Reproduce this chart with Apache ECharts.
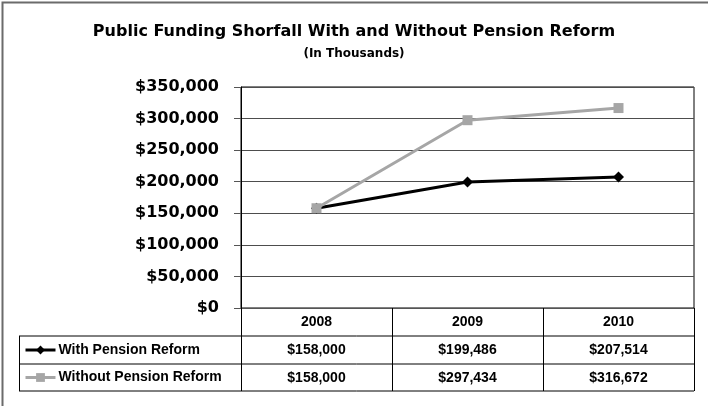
<!DOCTYPE html>
<html>
<head>
<meta charset="utf-8">
<script src="https://cdn.jsdelivr.net/npm/echarts@6/dist/echarts.min.js"></script>
<style>
  html, body { margin: 0; padding: 0; background: #fff; }
  #chart { width: 708px; height: 406px; }
</style>
</head>
<body>
<div id="chart"></div>
<script>
// Chart data
const years = ['2008', '2009', '2010'];
const seriesNames = ['With Pension Reform', 'Without Pension Reform'];
const withReform = [158000, 199486, 207514];
const withoutReform = [158000, 297434, 316672];

// Value axis range
const yMin = 0;
const yMax = 350000;
const yStep = 50000;

const money = v => '$' + Number(v).toLocaleString('en-US');

const chart = echarts.init(document.getElementById('chart'), null, { renderer: 'canvas' });

const tableFont = {
  fontFamily: '"Liberation Sans", Arial, sans-serif',
  fontWeight: 'bold',
  fontSize: 14,
  color: '#000'
};

// Extra category axes act as the rows of the data table under the plot
function rowAxis(values, offset) {
  return {
    type: 'category',
    gridIndex: 0,
    position: 'bottom',
    offset: offset,
    data: values.map(money),
    axisLine: { show: false },
    axisTick: { show: false },
    axisLabel: Object.assign({ interval: 0, margin: 7 }, tableFont),
    splitLine: { show: false }
  };
}

function rowLegend(name, top) {
  return {
    data: [name],
    left: 24,
    top: top,
    orient: 'horizontal',
    itemWidth: 30,
    itemHeight: 11,
    itemGap: 0,
    selectedMode: false,
    padding: 0,
    lineStyle: { width: 3 },
    textStyle: Object.assign({ lineHeight: 16, padding: [0, 0, 0, -2] }, tableFont)
  };
}

const option = {
  animation: false,
  backgroundColor: '#fff',
  title: {
    text: 'Public Funding Shorfall With and Without Pension Reform',
    subtext: '(In Thousands)',
    left: 'center',
    top: 19,
    itemGap: 8,
    textStyle: {
      fontFamily: '"DejaVu Sans", sans-serif',
      fontWeight: 'bold',
      fontSize: 16,
      color: '#000'
    },
    subtextStyle: {
      fontFamily: '"DejaVu Sans", sans-serif',
      fontWeight: 'bold',
      fontSize: 12,
      color: '#000'
    }
  },
  legend: [
    rowLegend(seriesNames[0], 342),
    rowLegend(seriesNames[1], 369.5)
  ],
  grid: {
    left: 241,
    right: 14,
    top: 87,
    bottom: 98,
    show: true,
    borderColor: '#000',
    borderWidth: 1,
    backgroundColor: 'transparent'
  },
  xAxis: [
    {
      type: 'category',
      data: years,
      boundaryGap: true,
      axisLine: { show: true, lineStyle: { color: '#555', width: 1 } },
      axisTick: {
        show: true,
        interval: 0,
        alignWithLabel: false,
        length: 83,
        lineStyle: { color: '#000', width: 1 }
      },
      axisLabel: Object.assign({ interval: 0, margin: 7 }, tableFont),
      splitLine: { show: false }
    },
    rowAxis(withReform, 28),
    rowAxis(withoutReform, 56)
  ],
  yAxis: {
    type: 'value',
    min: yMin,
    max: yMax,
    interval: yStep,
    axisLine: { show: true, lineStyle: { color: '#000', width: 1 } },
    axisTick: { show: true, length: 7, lineStyle: { color: '#555' } },
    axisLabel: {
      formatter: money,
      margin: 22,
      fontFamily: '"DejaVu Sans", sans-serif',
      fontWeight: 'bold',
      fontSize: 16,
      color: '#000'
    },
    splitLine: { show: true, lineStyle: { color: '#4d4d4d', width: 1 } }
  },
  series: [
    {
      name: seriesNames[0],
      type: 'line',
      data: withReform,
      symbol: 'diamond',
      symbolSize: 11,
      itemStyle: { color: '#000' },
      lineStyle: { color: '#000', width: 3 },
      z: 3
    },
    {
      name: seriesNames[1],
      type: 'line',
      data: withoutReform,
      symbol: 'rect',
      symbolSize: 10,
      itemStyle: { color: '#a6a6a6' },
      lineStyle: { color: '#a6a6a6', width: 3 },
      z: 4
    }
  ],
  graphic: [
    // outer chart frame
    {
      type: 'rect',
      shape: { x: 2.5, y: 2.5, width: 760, height: 460 },
      style: { fill: 'none', stroke: '#6b6b6b', lineWidth: 2 },
      silent: true,
      z: 0
    },
    // data table rules
    { type: 'line', shape: { x1: 19, y1: 336, x2: 694, y2: 336 }, style: { stroke: '#000', lineWidth: 1 }, silent: true },
    { type: 'line', shape: { x1: 19, y1: 364, x2: 694, y2: 364 }, style: { stroke: '#000', lineWidth: 1 }, silent: true },
    { type: 'line', shape: { x1: 19, y1: 391, x2: 694, y2: 391 }, style: { stroke: '#000', lineWidth: 1 }, silent: true },
    { type: 'line', shape: { x1: 19.5, y1: 336, x2: 19.5, y2: 391 }, style: { stroke: '#000', lineWidth: 1 }, silent: true }
  ]
};

chart.setOption(option);
</script>
</body>
</html>
